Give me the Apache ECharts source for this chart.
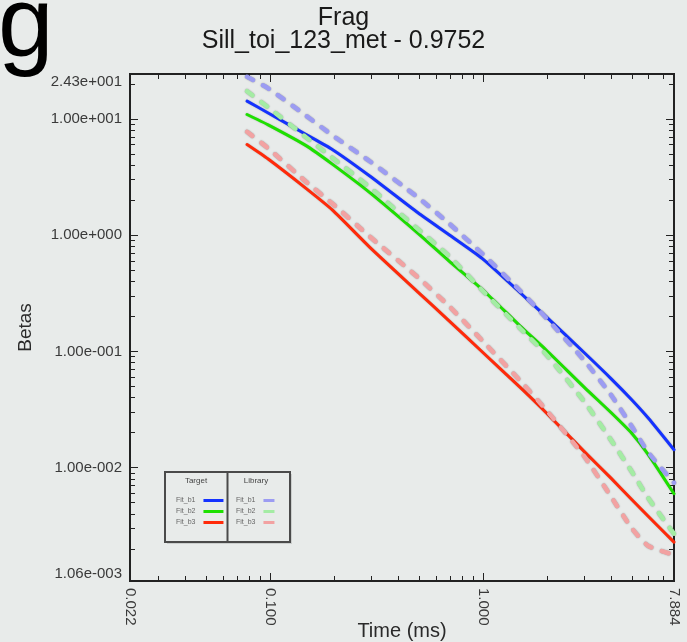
<!DOCTYPE html>
<html>
<head>
<meta charset="utf-8">
<script src="https://cdn.jsdelivr.net/npm/echarts@6/dist/echarts.min.js"></script>
<style>
html,body{margin:0;padding:0;background:#e8ebea;}
#chart{width:687px;height:642px;}
</style>
</head>
<body>
<div id="chart"></div>
<script>
// ---- data ----
const times = [0.078, 0.098, 0.147, 0.196, 0.295, 0.495, 0.693, 0.993, 1.49, 1.99, 2.99, 4.0, 4.99, 5.98, 7.884];
const targetB1 = [14.2, 11.24, 7.37, 5.46, 3.21, 1.556, 1.007, 0.628, 0.321, 0.197, 0.0973, 0.0581, 0.0384, 0.0266, 0.01426];
const targetB2 = [10.9, 8.88, 5.91, 4.08, 2.31, 1.036, 0.598, 0.3405, 0.166, 0.1018, 0.0491, 0.02965, 0.01976, 0.01291, 0.00597];
const targetB3 = [6.01, 4.51, 2.536, 1.647, 0.781, 0.324, 0.1833, 0.0988, 0.0492, 0.0294, 0.01375, 0.00808, 0.00533, 0.0038, 0.00229];
const libraryB1 = [22.97, 18.3, 10.7, 7.23, 4.30, 2.105, 1.258, 0.691, 0.334, 0.1919, 0.0834, 0.0420, 0.0227, 0.01346, 0.00742];
const libraryB2 = [17.27, 12.56, 6.99, 4.63, 2.561, 1.126, 0.659, 0.334, 0.1586, 0.0931, 0.0369, 0.01717, 0.00926, 0.00545, 0.0027];
const libraryB3 = [7.73, 5.58, 2.895, 1.869, 0.967, 0.433, 0.2447, 0.1236, 0.0562, 0.0310, 0.01248, 0.0056, 0.00302, 0.00212, 0.00178];

const seriesNames = ['Fit_b1', 'Fit_b2', 'Fit_b3'];
const xLabelTicks = [0.022, 0.1, 1, 7.884];
const yLabelTicks = [0.00106, 0.01, 0.1, 1, 10, 24.3];

const X_MIN = 0.022, X_MAX = 7.884, Y_MIN = 0.00106, Y_MAX = 24.3;

// ---- styling ----
const FONT = 'Liberation Sans, Arial, sans-serif';
const AX = '#222222';
const BG = '#e8ebea';
const targetColors = ['#1432ff', '#1ee000', '#ff2a0a'];
const libraryColors = ['#9c9cf2', '#a4eca4', '#f2a2a2'];

function pairs(vals) { return times.map((t, i) => [t, vals[i]]); }
function expFmt(v) {
  const s = Number(v).toExponential(2);
  const parts = s.split('e');
  const sign = parts[1][0];
  const digits = parts[1].slice(1).padStart(3, '0');
  return parts[0] + 'e' + sign + digits;
}

const tickCommon = {
  axisLine: { show: true, onZero: false, lineStyle: { color: AX, width: 2 } },
  axisTick: { show: true, inside: true, length: 8, lineStyle: { color: AX, width: 1 } },
  minorTick: { show: true, splitNumber: 9, length: 5, lineStyle: { color: AX, width: 1 } },
  splitLine: { show: false }, minorSplitLine: { show: false }
};

const series = [];
seriesNames.forEach((n, i) => {
  series.push({
    name: 'Target ' + n, type: 'line', xAxisIndex: 0, yAxisIndex: 0,
    data: pairs([targetB1, targetB2, targetB3][i]),
    showSymbol: false, symbol: 'none', smooth: 0.2, silent: true, z: 3,
    itemStyle: { color: targetColors[i] },
    lineStyle: { color: targetColors[i], width: 3, cap: 'round', join: 'round',
      shadowColor: 'rgba(0,0,0,0.25)', shadowBlur: 1.5 }
  });
});
seriesNames.forEach((n, i) => {
  series.push({
    name: 'Library ' + n, type: 'line', xAxisIndex: 0, yAxisIndex: 0,
    data: pairs([libraryB1, libraryB2, libraryB3][i]),
    showSymbol: false, symbol: 'none', smooth: 0.2, silent: true, z: 3,
    itemStyle: { color: libraryColors[i] },
    lineStyle: { color: libraryColors[i], width: 4.5, type: [7, 11], cap: 'round', join: 'round',
      shadowColor: 'rgba(0,0,0,0.35)', shadowBlur: 1.5 }
  });
});

const chart = echarts.init(document.getElementById('chart'), null, { renderer: 'canvas' });
chart.setOption({
  animation: false,
  backgroundColor: BG,
  textStyle: { fontFamily: FONT },
  title: [
    { text: 'Frag', left: 'center', top: 6, padding: 0,
      textStyle: { fontSize: 25, fontWeight: 'normal', color: '#1a1a1a', fontFamily: FONT } },
    { text: 'Sill_toi_123_met - 0.9752', left: 'center', top: 29, padding: 0,
      textStyle: { fontSize: 25, fontWeight: 'normal', color: '#1a1a1a', fontFamily: FONT } }
  ],
  grid: { left: 130, right: 13, top: 74, bottom: 61, containLabel: false, outerBoundsMode: 'none',
    show: true, borderColor: AX, borderWidth: 2, backgroundColor: 'transparent' },
  xAxis: [
    Object.assign({
      type: 'log', position: 'bottom', min: X_MIN, max: X_MAX, logBase: 10,
      name: 'Time (ms)', nameLocation: 'middle', nameGap: 40, nameMoveOverlap: false,
      nameTextStyle: { fontSize: 20, color: '#2a2a2a', fontFamily: FONT },
      axisLabel: { show: true, customValues: xLabelTicks, rotate: -90, margin: 7,
        fontSize: 15, color: '#3a3a3a', fontFamily: FONT, hideOverlap: false,
        showMinLabel: true, showMaxLabel: true,
        formatter: v => Number(v).toFixed(3) }
    }, tickCommon),
    Object.assign({
      type: 'log', position: 'top', min: X_MIN, max: X_MAX, logBase: 10,
      axisLabel: { show: false }
    }, tickCommon)
  ],
  yAxis: [
    Object.assign({
      type: 'log', position: 'left', min: Y_MIN, max: Y_MAX, logBase: 10,
      name: 'Betas', nameLocation: 'middle', nameGap: 95, nameMoveOverlap: false,
      nameTextStyle: { fontSize: 19, color: '#2a2a2a', fontFamily: FONT },
      axisLabel: { show: true, customValues: yLabelTicks, margin: 8,
        fontSize: 15, color: '#3a3a3a', fontFamily: FONT, hideOverlap: false,
        showMinLabel: true, showMaxLabel: true,
        verticalAlignMaxLabel: 'top', verticalAlignMinLabel: 'bottom',
        formatter: v => expFmt(v) }
    }, tickCommon),
    Object.assign({
      type: 'log', position: 'right', min: Y_MIN, max: Y_MAX, logBase: 10,
      axisLabel: { show: false }
    }, tickCommon)
  ],
  legend: [
    { data: seriesNames.map(n => 'Target ' + n), orient: 'vertical', left: 176, top: 497, z: 20,
      align: 'right', icon: 'rect', itemWidth: 20, itemHeight: 3, itemGap: 4,
      selectedMode: false, padding: 0,
      formatter: name => name.split(' ')[1],
      textStyle: { fontSize: 7, color: '#666', fontFamily: FONT, padding: [0, 3, 0, 0] } },
    { data: seriesNames.map(n => 'Library ' + n), orient: 'vertical', left: 236, top: 497, z: 20,
      align: 'right', icon: 'rect', itemWidth: 11, itemHeight: 3, itemGap: 4,
      selectedMode: false, padding: 0,
      formatter: name => name.split(' ')[1],
      textStyle: { fontSize: 7, color: '#666', fontFamily: FONT, padding: [0, 3, 0, 0] } }
  ],
  graphic: [
    { type: 'text', left: -2, top: -22, z: 100,
      style: { text: 'g', font: '100px ' + FONT, fill: '#000' } },
    { type: 'rect', shape: { x: 167, y: 474, width: 125, height: 70 }, z: 1,
      style: { fill: 'rgba(0,0,0,0.12)' } },
    { type: 'rect', shape: { x: 165, y: 472, width: 125, height: 70 }, z: 2,
      style: { fill: BG, stroke: '#4a4a4a', lineWidth: 2 } },
    { type: 'line', shape: { x1: 227.5, y1: 472, x2: 227.5, y2: 542 }, z: 3,
      style: { stroke: '#4a4a4a', lineWidth: 2 } },
    { type: 'text', x: 196, y: 481, z: 3,
      style: { text: 'Target', font: '8px ' + FONT, fill: '#444', align: 'center', verticalAlign: 'middle' } },
    { type: 'text', x: 256, y: 481, z: 3,
      style: { text: 'Library', font: '8px ' + FONT, fill: '#444', align: 'center', verticalAlign: 'middle' } }
  ],
  series: series
});
</script>
</body>
</html>
